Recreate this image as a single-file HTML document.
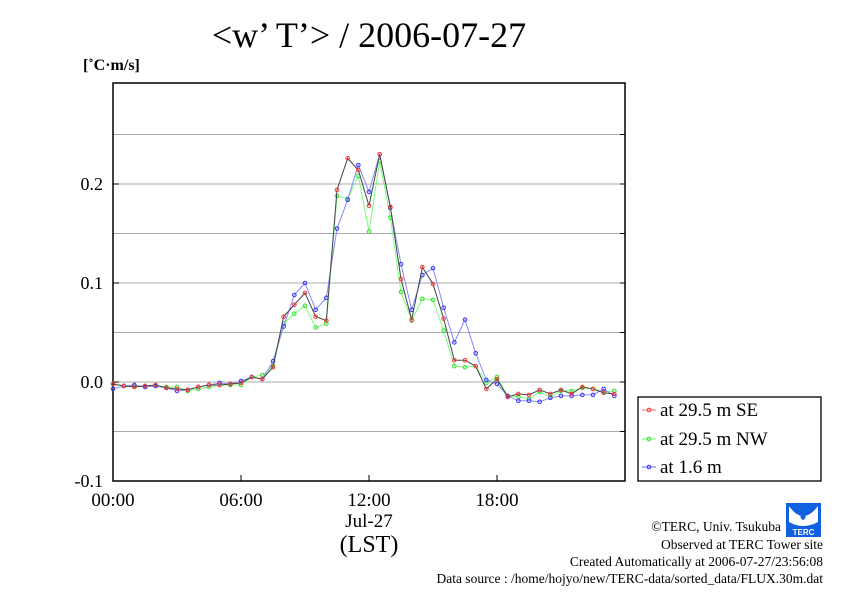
<!DOCTYPE html>
<html><head><meta charset="utf-8"><style>
body{margin:0;background:#fff;}
svg{display:block;font-family:"Liberation Serif",serif;}
</style></head><body>
<svg id="chart" width="842" height="595" viewBox="0 0 842 595" xmlns="http://www.w3.org/2000/svg">
<rect width="842" height="595" fill="#fff"/>
<text x="369" y="47" font-size="36" text-anchor="middle">&lt;w’ T’&gt; / 2006-07-27</text>
<text x="83" y="70" font-size="16" font-weight="bold">[˚C·m/s]</text>
<g id="grid"></g>
<g id="axes"></g>
<g id="series"></g>
<g>
<rect x="638" y="397" width="183" height="84" fill="#fff" stroke="#000" stroke-width="1.3"/>
<g><line x1="642" y1="410" x2="656" y2="410" stroke="#f66" stroke-width="1"/><circle cx="649" cy="410" r="1.8" fill="none" stroke="#f33"/><text x="660" y="416" font-size="19">at 29.5 m SE</text></g>
<g><line x1="642" y1="439" x2="656" y2="439" stroke="#6f6" stroke-width="1"/><circle cx="649" cy="439" r="1.8" fill="none" stroke="#3d3"/><text x="660" y="445" font-size="19">at 29.5 m NW</text></g>
<g><line x1="642" y1="467" x2="656" y2="467" stroke="#66f" stroke-width="1"/><circle cx="649" cy="467" r="1.8" fill="none" stroke="#33f"/><text x="660" y="473" font-size="19">at 1.6 m</text></g>
</g>
<g>
<rect x="786" y="503" width="35" height="34" fill="#1060e0"/>
<path d="M789 506 Q803 526 818 506 L818 522 Q803 530 789 522 Z" fill="#fff"/>
<path d="M803 510 Q798 518 803 520 Q808 518 803 510Z" fill="#1060e0"/>
<text x="803.5" y="535" font-size="8" fill="#fff" text-anchor="middle" font-family="Liberation Sans,sans-serif" font-weight="bold">TERC</text>
</g>
<g font-size="13.5" text-anchor="end">
<text x="781" y="531">©TERC, Univ. Tsukuba</text>
<text x="823" y="549">Observed at TERC Tower site</text>
<text x="823" y="566">Created Automatically at 2006-07-27/23:56:08</text>
<text x="823" y="583">Data source : /home/hojyo/new/TERC-data/sorted_data/FLUX.30m.dat</text>
</g>
</svg>
<script>
const yTicks=[-0.1,0.0,0.1,0.2];
const yTickLabels=["-0.1","0.0","0.1","0.2"];
const xTicks=[0,6,12,18];
const xTickLabels=["00:00","06:00","12:00","18:00"];
const seSeries=[-0.002,-0.004,-0.005,-0.004,-0.003,-0.006,-0.007,-0.008,-0.005,-0.003,-0.003,-0.002,-0.001,0.005,0.003,0.015,0.066,0.078,0.090,0.066,0.062,0.194,0.226,0.214,0.178,0.230,0.177,0.104,0.063,0.116,0.099,0.064,0.022,0.022,0.016,-0.007,0.003,-0.015,-0.012,-0.013,-0.008,-0.012,-0.008,-0.012,-0.005,-0.007,-0.011,-0.012];
const nwSeries=[-0.002,-0.004,-0.004,-0.004,-0.004,-0.005,-0.005,-0.009,-0.007,-0.005,-0.003,-0.003,-0.003,0.005,0.007,0.016,0.059,0.069,0.077,0.055,0.059,0.188,0.185,0.208,0.152,0.223,0.166,0.091,0.062,0.084,0.083,0.052,0.016,0.015,0.016,-0.001,0.005,-0.014,-0.015,-0.017,-0.010,-0.015,-0.009,-0.009,-0.006,-0.007,-0.010,-0.009];
const lowSeries=[-0.007,-0.004,-0.003,-0.005,-0.004,-0.006,-0.009,-0.008,-0.005,-0.003,-0.001,-0.002,0.001,0.005,0.003,0.021,0.056,0.088,0.100,0.073,0.085,0.155,0.184,0.219,0.192,0.230,0.176,0.119,0.073,0.108,0.115,0.075,0.040,0.063,0.029,0.002,-0.002,-0.014,-0.019,-0.019,-0.020,-0.016,-0.014,-0.014,-0.013,-0.013,-0.007,-0.014];
const NS="http://www.w3.org/2000/svg";
const L=113,R=625,T=83,B=481;
const ymin=-0.1,ymax=0.302;
function yS(v){return B-(v-ymin)/(ymax-ymin)*(B-T);}
function xS(h){return L+h/24*(R-L);}
function mk(tag,attrs,parent){const e=document.createElementNS(NS,tag);for(const k in attrs)e.setAttribute(k,attrs[k]);parent.appendChild(e);return e;}
const grid=document.getElementById('grid'),axes=document.getElementById('axes'),ser=document.getElementById('series');
for(let v=-0.05;v<0.3;v+=0.05){
  const g=mk('line',{x1:L,x2:R,y1:yS(v),y2:yS(v),stroke:'#aaa','stroke-width':1},grid);
  
  
  mk('line',{x1:R-5,x2:R,y1:yS(v),y2:yS(v),stroke:'#000'},axes);
}
const frame=mk('rect',{x:L,y:T,width:R-L,height:B-T,fill:'none',stroke:'#000','stroke-width':1.5},axes);


yTicks.forEach((v,i)=>{
  mk('line',{x1:L,x2:L+6,y1:yS(v),y2:yS(v),stroke:'#000'},axes);
  const t=mk('text',{x:103,y:yS(v)+6,'font-size':18,'text-anchor':'end'},axes);
  t.textContent=yTickLabels[i];
  
  
});
xTicks.forEach((h,i)=>{
  mk('line',{x1:xS(h),x2:xS(h),y1:B,y2:B-6,stroke:'#000'},axes);
  const t=mk('text',{x:xS(h),y:506,'font-size':19,'text-anchor':'middle'},axes);
  t.textContent=xTickLabels[i];
  
  
});
const d1=mk('text',{x:xS(12),y:527,'font-size':19,'text-anchor':'middle'},axes);d1.textContent='Jul-27';


const d2=mk('text',{x:xS(12),y:552,'font-size':24,'text-anchor':'middle'},axes);d2.textContent='(LST)';


function draw(arr,lineC,ptC,name){
  const g=mk('g',{},ser);
  
  
  const pts=arr.map((v,i)=>xS(i*0.5)+','+yS(v)).join(' ');
  mk('polyline',{points:pts,fill:'none',stroke:lineC,'stroke-width':1},g);
  arr.forEach((v,i)=>{const c=mk('circle',{cx:xS(i*0.5),cy:yS(v),r:1.8,fill:'none',stroke:ptC,'stroke-width':1},g);
    
    });
}
draw(nwSeries,'#7f7','#3d3','series-29-5m-nw');
draw(lowSeries,'#88f','#33f','series-1-6m');
draw(seSeries,'#444','#f33','series-29-5m-se');
</script>
</body></html>
